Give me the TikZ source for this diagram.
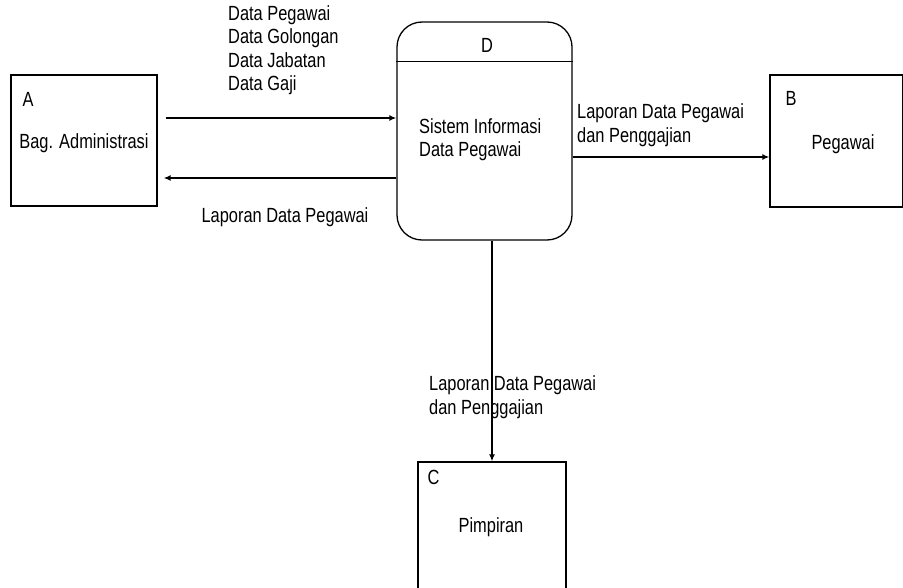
\documentclass[tikz,border=0pt]{standalone}
\usepackage{fontspec}
\setmainfont{Liberation Sans}[FakeStretch=0.8]
\usepackage{tikz}
\usetikzlibrary{arrows.meta}

\tikzset{
  entity/.style={draw, line width=1.3pt, minimum width=146pt, minimum height=131pt, inner sep=0pt},
  proses/.style={draw, line width=1.3pt, rounded corners=25pt, minimum width=175pt, minimum height=218pt, inner sep=0pt},
  teks/.style={font=\fontsize{20.5pt}{23.5pt}\selectfont, inner sep=0pt, align=left},
  alur/.style={line width=1.7pt, -{Latex[length=7pt,width=6pt]}}
}

\begin{document}
\begin{tikzpicture}[x=1pt,y=-1pt]
\useasboundingbox (0,0) rectangle (903,588);
% entitas dan proses
\node[entity] (A) at (84,140.5) {};
\node[entity, minimum width=133pt, minimum height=132pt] (B) at (836.5,141) {};
\node[entity, minimum width=148pt, minimum height=134pt] (C) at (492,529) {};
\node[proses] (D) at (484.5,131) {};
\draw[line width=1.1pt] ([yshift=-40pt]D.north west) -- ([yshift=-40pt]D.north east);
%\draw (A.south west) -- (A.south east);
\node[teks, anchor=north west] (lA) at ([shift={(12,18)}]A.north west) {A};
\node[teks] (nA) at (84,143) {Bag. Administrasi};
\node[teks, anchor=north west] (lB) at ([shift={(16,17)}]B.north west) {B};
\node[teks] (nB) at (843,144) {Pegawai};
\node[teks, anchor=north west] (lC) at ([shift={(10,9)}]C.north west) {C};
\node[teks] (nC) at (491,527) {Pimpiran};
\node[teks] (lD) at (487,45) {D};
\node[teks, anchor=west] (nD) at (419,139.5) {Sistem Informasi\\Data Pegawai};
% aliran data
\draw[alur] ([xshift=8pt,yshift=22.5pt]A.east) -- ([yshift=13pt]D.west);
\draw[alur] ([yshift=-47pt]D.west) -- ([xshift=6pt,yshift=-37.5pt]A.east);
\draw[alur] ([yshift=-26pt]D.east) -- ([yshift=-16pt]B.west);
\draw[alur] (C.north |- D.south) -- (C.north);
\node[teks, anchor=west] (f1) at (228,50) {Data Pegawai\\Data Golongan\\Data Jabatan\\Data Gaji};
\node[teks] (f2) at (285,217) {Laporan Data Pegawai};
\node[teks, anchor=west] (f3) at (577,125) {Laporan Data Pegawai\\dan Penggajian};
\node[teks, anchor=west] (f4) at (429,397) {Laporan Data Pegawai\\dan Penggajian};
\end{tikzpicture}
\end{document}
